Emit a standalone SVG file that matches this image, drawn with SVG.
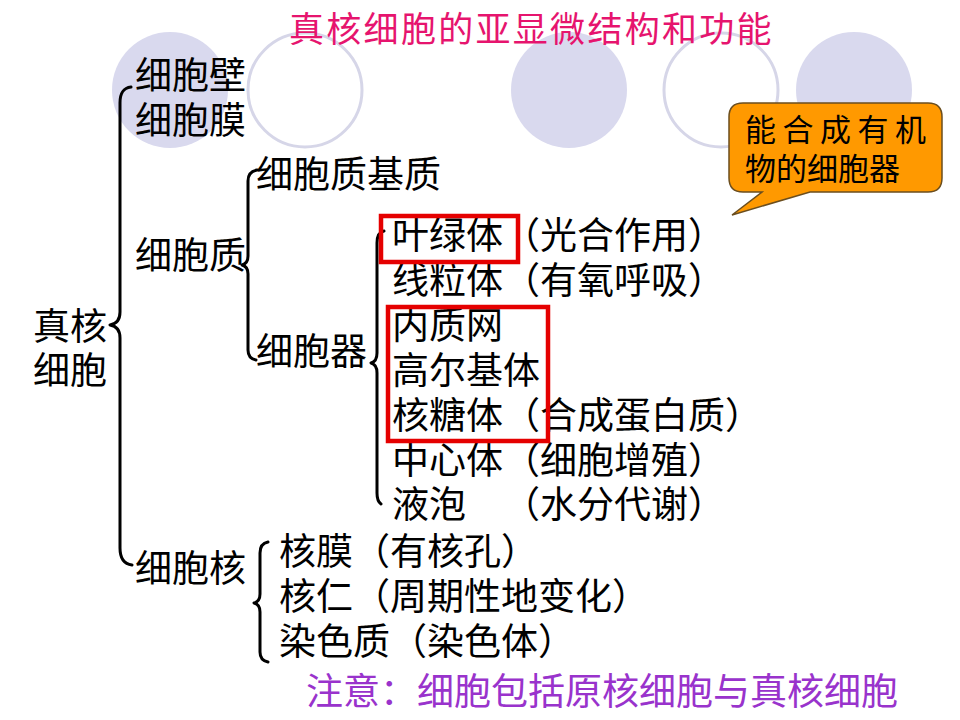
<svg xmlns="http://www.w3.org/2000/svg" width="960" height="720" viewBox="0 0 960 720">
<style>
  text { font-family: "Noto Sans CJK SC", "Noto Sans", sans-serif; font-size: 37px; fill: #000; }
  .title { fill: #E6146E; font-size: 35px; letter-spacing: 2.3px; }
  .note { fill: #9933CC; }
  .disc { fill: #D9D9EE; }
  .ring { fill: none; stroke: #D6D6E8; stroke-width: 3; }
  .brace { fill: none; stroke: #000; stroke-width: 3; stroke-linecap: round; stroke-linejoin: round; }
  .hl { fill: none; stroke: #E50000; stroke-width: 4.5; }
  .callout { fill: #FF9900; stroke: #6B4E1F; stroke-width: 1.5; }
  .ctext { font-size: 31px; }
</style>
<rect width="960" height="720" fill="#FFFFFF"/>
<g id="decor">
  <circle class="disc" cx="170" cy="90" r="58"/>
  <circle class="ring" cx="305" cy="90" r="57"/>
  <circle class="disc" cx="569" cy="90" r="58"/>
  <circle class="ring" cx="721" cy="90" r="57"/>
  <circle class="disc" cx="854" cy="90" r="58"/>
</g>
<g id="title"><text class="title" x="289" y="42">真核细胞的亚显微结构和功能</text></g>
<g id="connectors">
  <path class="brace" d="M131,87 C123,88 120,93 120,103 L120,312 C120,320 116,324 110,325 C116,326 120,330 120,338 L120,548 C120,558 124,564 132,565"/>
  <path class="brace" d="M257,170 C251,171 248,174 248,181 L248,256 C248,261 246,264 242,265 C246,266 248,269 248,274 L248,350 C248,356 251,359 256,360"/>
  <path class="brace" d="M384,231 C379,232 377,236 377,243 L377,353 C377,359 375,362 371,363 C375,364 377,367 377,373 L377,493 C377,499 378,502 381,504"/>
  <path class="brace" d="M268,542 C263,543 260,546 260,553 L260,594 C260,599 258,602 254,603 C258,604 260,607 260,612 L260,652 C260,658 263,661 268,662"/>
</g>
<g id="node-root"><text x="33" y="340">真核</text><text x="33" y="384">细胞</text></g>
<g id="node-wall"><text x="135" y="89">细胞壁</text></g>
<g id="node-membrane"><text x="135" y="134">细胞膜</text></g>
<g id="node-cytoplasm"><text x="135" y="269">细胞质</text></g>
<g id="node-matrix"><text x="256" y="188">细胞质基质</text></g>
<g id="node-organelles"><text x="256" y="365">细胞器</text></g>
<g id="node-chloroplast"><text x="392" y="249">叶绿体（光合作用）</text></g>
<g id="node-mitochondria"><text x="392" y="294">线粒体（有氧呼吸）</text></g>
<g id="node-er"><text x="392" y="339">内质网</text></g>
<g id="node-golgi"><text x="392" y="384">高尔基体</text></g>
<g id="node-ribosome"><text x="392" y="429">核糖体（合成蛋白质）</text></g>
<g id="node-centrosome"><text x="392" y="474">中心体（细胞增殖）</text></g>
<g id="node-vacuole"><text x="392" y="518">液泡<tspan x="503">（水分代谢）</tspan></text></g>
<g id="node-nucleus"><text x="135" y="582">细胞核</text></g>
<g id="node-envelope"><text x="279" y="565">核膜（有核孔）</text></g>
<g id="node-nucleolus"><text x="279" y="610">核仁（周期性地变化）</text></g>
<g id="node-chromatin"><text x="279" y="655">染色质（染色体）</text></g>
<g id="highlights">
  <rect class="hl" x="381" y="216" width="137" height="46"/>
  <rect class="hl" x="388" y="307" width="160" height="134"/>
</g>
<g id="callout">
  <path class="callout" d="M743,103 H928 Q942,103 942,117 V178 Q942,192 928,192 H810 L732,215 L762,192 H743 Q729,192 729,178 V117 Q729,103 743,103 Z"/>
  <text class="ctext" x="745" y="141" letter-spacing="6.5">能合成有机</text>
  <text class="ctext" x="745" y="180">物的细胞器</text>
</g>
<g id="note"><text class="note" x="306" y="705">注意：细胞包括原核细胞与真核细胞</text></g>
</svg>
